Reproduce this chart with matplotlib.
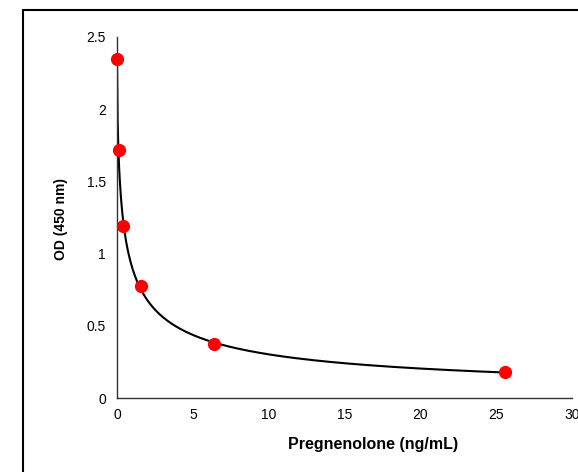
import numpy as np
import matplotlib
matplotlib.use("Agg")
import matplotlib.pyplot as plt
import matplotlib.ticker as tck
from matplotlib.patches import Rectangle

plt.rcParams['font.family'] = ['Liberation Sans', 'DejaVu Sans']

# standard curve points
conc = [0, 0.1, 0.4, 1.6, 6.4, 25.6]
od = [2.35, 1.72, 1.19, 0.775, 0.375, 0.18]


def fit_4pl(x, y):
    # grid over slope/midpoint, linear least squares for top and bottom
    x = np.asarray(x, float)
    y = np.asarray(y, float)
    best = None
    for b in np.linspace(0.3, 2.0, 86):
        for c in np.logspace(-2, 2, 161):
            f = 1.0 / (1.0 + (x / c) ** b)
            A = np.column_stack([f, 1 - f])
            coef, *_ = np.linalg.lstsq(A, y, rcond=None)
            err = np.sum((A @ coef - y) ** 2)
            if best is None or err < best[0]:
                best = (err, coef[0], b, c, coef[1])
    return best[1:]


a, b, c, d = fit_4pl(conc, od)
xs = np.linspace(0, max(conc), 600)
ys = d + (a - d) / (1 + (xs / c) ** b)

fig = plt.figure(figsize=(5.78, 4.72), dpi=100)
fig.patches.append(Rectangle((23 / 578, -0.1), 1.2, 1.1 - 10 / 472,
                             transform=fig.transFigure, fill=False,
                             edgecolor='black', linewidth=1.5))
ax = fig.add_axes([117 / 578, 1 - 398 / 472, (572 - 117) / 578, (398 - 37) / 472])

ax.plot(xs, ys, color='black', linewidth=1.5, zorder=2)
ax.plot(conc, od, 'o', color='#ff0000', markersize=8.5, zorder=3, clip_on=False)

ax.set_xlim(0, 30)
ax.set_ylim(0, 2.5)
ax.set_xticks([0, 5, 10, 15, 20, 25, 30])
ax.set_yticks([0, 0.5, 1, 1.5, 2, 2.5])
ax.yaxis.set_major_formatter(tck.FormatStrFormatter('%g'))
ax.tick_params(length=0, labelsize=10, pad=8)
ax.tick_params(axis='x', pad=7)

for s in ['top', 'right']:
    ax.spines[s].set_visible(False)
for s in ['left', 'bottom']:
    ax.spines[s].set_color('#333333')
    ax.spines[s].set_linewidth(1.0)

ax.set_xlabel('Pregnenolone (ng/mL)', fontsize=11.5, fontweight='bold')
ax.set_ylabel('OD (450 nm)', fontsize=10, fontweight='bold')
ax.xaxis.set_label_coords((373 - 117) / 455, -(437 - 398) / 361)
ax.yaxis.set_label_coords(-(117 - 68) / 455, (398 - 219) / 361)

fig.savefig('out.png', dpi=100)
